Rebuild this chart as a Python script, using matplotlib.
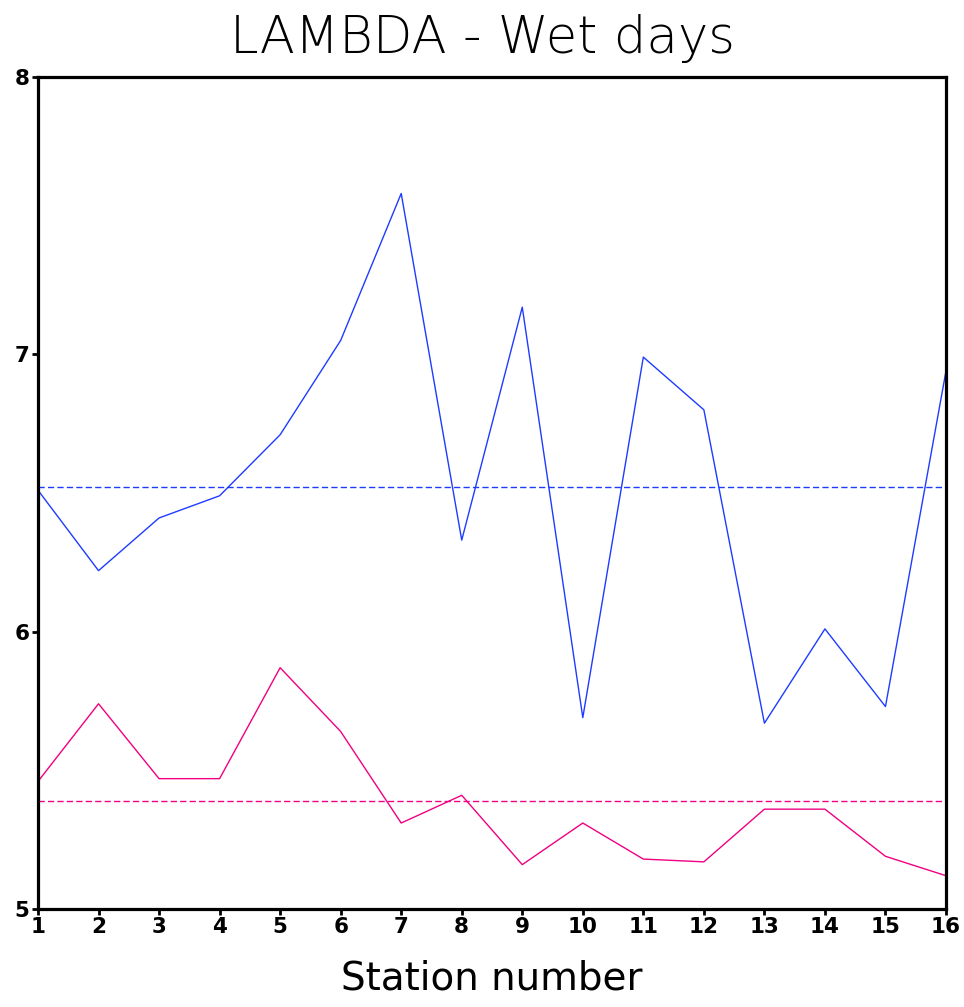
import matplotlib
matplotlib.use("Agg")
import matplotlib.pyplot as plt
import numpy as np

stations = list(range(1, 17))
blue_values = [6.51, 6.22, 6.41, 6.49, 6.71, 7.05, 7.58, 6.33, 7.17, 5.69,
               6.99, 6.80, 5.67, 6.01, 5.73, 6.94]
red_values = [5.46, 5.74, 5.47, 5.47, 5.87, 5.64, 5.31, 5.41, 5.16, 5.31,
              5.18, 5.17, 5.36, 5.36, 5.19, 5.12]
blue_mean = 6.52
red_mean = 5.39
y_ticks = [5, 6, 7, 8]

BLUE = "#1e3cff"
RED = "#f00082"

fig = plt.figure(figsize=(9.64, 10.07), dpi=100)
ax = fig.add_axes([38/964, 1 - 909/1007, (946-38)/964, (909-77)/1007])

ax.plot(stations, blue_values, color=BLUE, lw=1.0)
ax.plot(stations, red_values, color=RED, lw=1.0)
ax.axhline(blue_mean, color=BLUE, lw=1.0, ls=(0, (4.5, 2.3)))
ax.axhline(red_mean, color=RED, lw=1.0, ls=(0, (4.5, 2.3)))

ax.set_xlim(1, 16)
ax.set_ylim(5, 8)
ax.set_xticks(stations)
ax.set_yticks(y_ticks)
for s in ax.spines.values():
    s.set_linewidth(2.3)
ax.tick_params(direction="out", length=4, width=2, labelsize=15.5, pad=2)
for lab in ax.get_xticklabels() + ax.get_yticklabels():
    lab.set_fontweight("semibold")

ax.set_xlabel("Station number", fontsize=28, labelpad=16)
fig.text(0.5, 1 - 53/1007, "LAMBDA - Wet days", ha="center", va="baseline",
         fontsize=37, fontweight="light")

fig.savefig("out.png", dpi=100)
